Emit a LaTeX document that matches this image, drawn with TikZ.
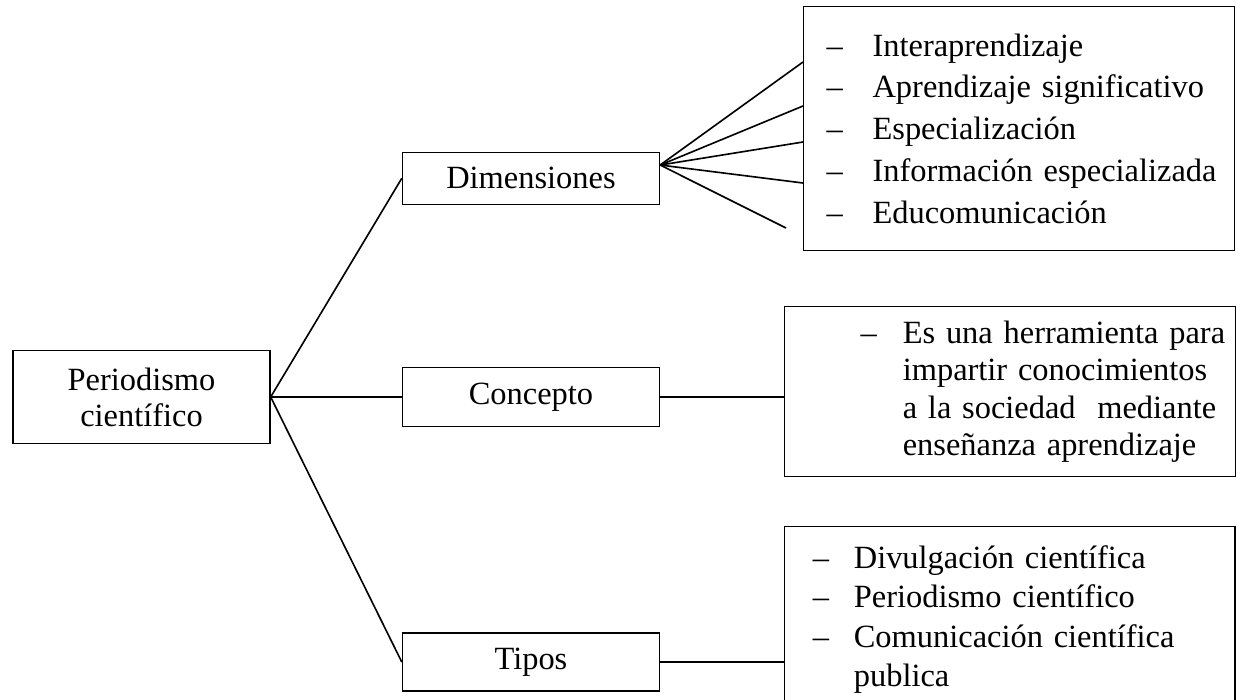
\documentclass[tikz,border=0pt]{standalone}
\usepackage{fontspec}
\setmainfont{Liberation Serif}
\usetikzlibrary{positioning, calc}
\tikzset{
    box/.style={draw, line width=0.5pt, align=center, inner sep=0pt, minimum width=95.1pt}, % main boxes
    listbox/.style={draw, line width=0.5pt, align=left}, % boxes with the lists
    link/.style={line width=0.6pt}, % plain connectors
}
\newcommand{\guion}[1][17pt]{\makebox[#1][l]{–}}

\begin{document}
\begin{tikzpicture}[
    x=0.37pt, y=-0.37pt,
    font=\fontsize{12}{13.3}\selectfont
]
    \useasboundingbox (0,0) rectangle (1236,700);

    % --- Main boxes ---
    \node[box, minimum height=34.4pt] (per) at (141.5,397) {Periodismo\\científico};
    \node[box, minimum height=21.8pt, right=48.5pt of per] (con) {Concepto};
    \node[box, minimum height=19.2pt, above=59.9pt of con] (dim) {Dimensiones};
    \node[box, minimum height=21.5pt, below=75.9pt of con] (tip) {Tipos};

    % --- Lists ---
    \node[listbox, anchor=north west, minimum height=90.3pt, inner xsep=0pt,
          text width=159.5pt, font=\fontsize{12}{15.5}\selectfont] (dimlist) at (803,6) {
        \hspace*{8.5pt}\guion Interaprendizaje\\
        \hspace*{8.5pt}\guion Aprendizaje significativo\\
        \hspace*{8.5pt}\guion Especialización\\
        \hspace*{8.5pt}\guion Información especializada\\
        \hspace*{8.5pt}\guion Educomunicación};
    \node[listbox, anchor=north west, minimum height=62.9pt, inner xsep=0pt,
          text width=166.9pt, font=\fontsize{12}{13.8}\selectfont] (conlist) at (784,306) {
        \hspace*{28.1pt}\guion[15.6pt]Es una herramienta para\\
        \hspace*{43.7pt}impartir conocimientos\\
        \hspace*{43.7pt}a la sociedad~\ mediante\\
        \hspace*{43.7pt}enseñanza aprendizaje};
    \node[listbox, anchor=north west, inner xsep=10.4pt, inner ysep=7pt,
          text width=145.8pt, font=\fontsize{12}{14.6}\selectfont] (tiplist) at (784,526) {
        \guion[15.2pt]Divulgación científica\\
        \guion[15.2pt]Periodismo científico\\
        \guion[15.2pt]Comunicación científica\\
        \hspace*{15.2pt}publica};

    % --- Connectors ---
    \draw[link] (per.east) -- (dim.west);
    \draw[link] (per.east) -- (con.west);
    \draw[link] (per.east) -- (tip.west);
    \draw[link] (con.east) -- (con.east -| conlist.west);
    \draw[link] (tip.east) -- (tip.east -| tiplist.west);

    % fan from Dimensiones to its list
    \coordinate (fan) at ($(dim.north east)!0.25!(dim.south east)$);
    \coordinate (fanend) at ($(dimlist.north west)+(-17,222)$);
    \foreach \dy in {56,100,136,177}
        \draw[link] (fan) -- ($(dimlist.north west)+(0,\dy)$);
    \draw[link] (fan) -- (fanend);

\end{tikzpicture}
\end{document}
